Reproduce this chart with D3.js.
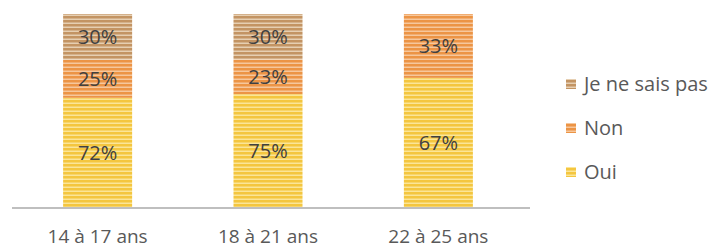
<!DOCTYPE html>
<html>
<head>
<meta charset="utf-8">
<script src="https://cdn.jsdelivr.net/npm/d3@7"></script>
<style>
  body { margin: 0; background: #fff; }
  svg { display: block; font-family: "Open Sans", sans-serif; }
</style>
</head>
<body>
<script>
// données
const categories = ['14 à 17 ans', '18 à 21 ans', '22 à 25 ans'];
const series = ['Oui', 'Non', 'Je ne sais pas'];
const oui = [72, 75, 67];
const non = [25, 23, 33];
const jnsp = [30, 30, 0];

const width = 717, height = 251;
const colors = {
  'Oui': ['#f4c63f', '#fbe597'],
  'Non': ['#ec9445', '#f6c79c'],
  'Je ne sais pas': ['#c39463', '#e6cfb2']
};

const rows = categories.map((c, i) => ({cat: c, 'Oui': oui[i], 'Non': non[i], 'Je ne sais pas': jnsp[i]}));

const svg = d3.select('body')
  .append('svg')
  .attr('width', width)
  .attr('height', height);

//stripe patterns
const defs = svg.append('defs');
series.forEach((s, i) => {
  const p = defs.append('pattern')
    .attr('id', 'pat' + i)
    .attr('patternUnits', 'userSpaceOnUse')
    .attr('width', 4)
    .attr('height', 4);
  p.append('rect').attr('width', 4).attr('height', 4).attr('fill', colors[s][0]);
  p.append('rect').attr('y', 2.5).attr('width', 4).attr('height', 1.5).attr('fill', colors[s][1]);
});

const x = d3.scaleBand()
  .domain(categories)
  .range([12, 524])
  .paddingInner(0.595)
  .paddingOuter(0.3);

const y = d3.scaleLinear()
  .domain([0, 1])
  .range([207.5, 14]);

const stacked = d3.stack()
  .keys(series)
  .offset(d3.stackOffsetExpand)(rows);

const layers = svg.selectAll('g.layer')
  .data(stacked)
  .enter()
  .append('g')
  .attr('class', 'layer');

layers.selectAll('rect')
  .data((d) => d.map((v) => Object.assign(v, {key: d.key, idx: series.indexOf(d.key)})))
  .enter()
  .append('rect')
  .attr('x', (d) => x(d.data.cat))
  .attr('width', x.bandwidth())
  .attr('y', (d) => y(d[1]))
  .attr('height', (d) => y(d[0]) - y(d[1]))
  .attr('fill', (d) => `url(#pat${d.idx})`);

layers.selectAll('text')
  .data((d) => d.filter((v) => v.data[d.key] > 0))
  .enter()
  .append('text')
  .attr('x', (d) => x(d.data.cat) + x.bandwidth() / 2)
  .attr('y', (d) => (y(d[0]) + y(d[1])) / 2)
  .attr('dy', '0.36em')
  .attr('text-anchor', 'middle')
  .attr('font-size', 20)
  .attr('fill', '#404040')
  .text((d) => d.data[d.key] + '%');

//axe
const axis = svg.append('g')
  .attr('transform', `translate(0,${y(0)})`)
  .call(d3.axisBottom(x).tickSize(0).tickPadding(22));
axis.select('.domain')
  .attr('d', 'M12,0.5H530')
  .attr('stroke', '#bfbfbf')
  .attr('stroke-width', 2);
axis.selectAll('text')
  .attr('font-size', 19)
  .attr('fill', '#595959')
  .attr('font-family', '"Open Sans", sans-serif');

//legende
const legend = svg.append('g')
  .selectAll('g')
  .data(series.slice().reverse())
  .enter()
  .append('g')
  .attr('transform', (d, i) => `translate(566,${84 + i * 44})`);
legend.append('rect')
  .attr('x', 0)
  .attr('y', -5)
  .attr('width', 10)
  .attr('height', 10)
  .attr('fill', (d) => `url(#pat${series.indexOf(d)})`);
legend.append('text')
  .attr('x', 18)
  .attr('dy', '0.36em')
  .attr('font-size', 20)
  .attr('fill', '#595959')
  .text((d) => d);
</script>
</body>
</html>
